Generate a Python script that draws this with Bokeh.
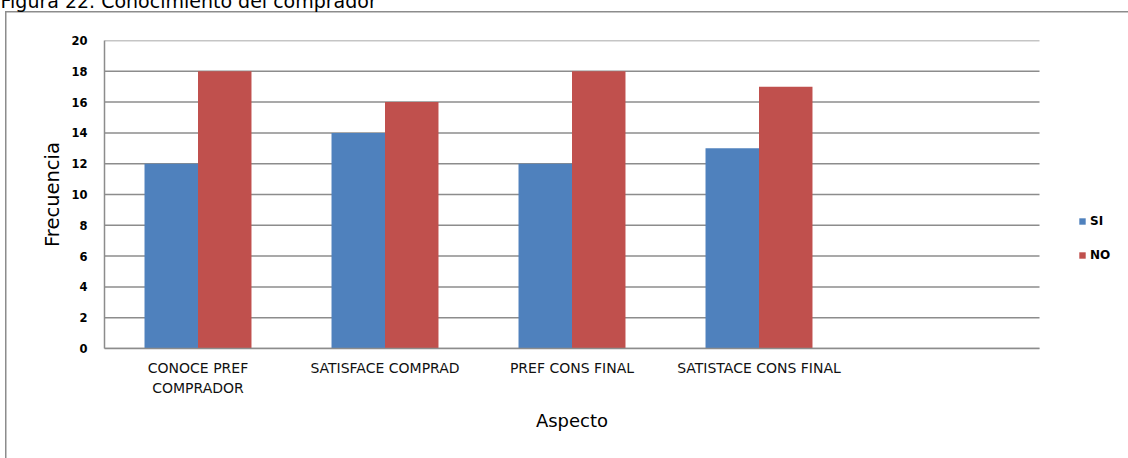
import numpy as np
from bokeh.plotting import figure
from bokeh.models import (Range1d, FixedTicker, Legend, LegendItem, ColumnDataSource, Label)
from bokeh.embed import file_html
from bokeh.resources import INLINE

# ---- data ----
categories = ["CONOCE PREF\nCOMPRADOR", "SATISFACE COMPRAD", "PREF CONS FINAL", "SATISTACE CONS FINAL"]
n_slots = 5
si = [12, 14, 12, 13]
no = [18, 16, 18, 17]
series_names = ["SI", "NO"]
y_ticks = list(range(0, 21, 2))
title_text = "Figura 22. Conocimiento del comprador"
x_title = "Aspecto"
y_title = "Frecuencia"

FONT = "DejaVu Sans"
GRID = "#8c8c8c"
BLUE = "#4F81BD"
RED = "#C0504D"

W, H = 1128, 458
LEFT, TOP, BOTTOM = 104, 40, 110
PLOT_W = 935  # width of the category area in pixels

pos = np.arange(1, len(categories) + 1)
bw = 0.286
src = ColumnDataSource(dict(x_si=pos - bw / 2, x_no=pos + bw / 2, si=si, no=no))

x0, x1 = 0.5, n_slots + 0.5
x_end = x0 + (W - LEFT) * (x1 - x0) / PLOT_W  # frame runs to the right edge (legend area)

frame_css = ("linear-gradient(#8c8c8c,#8c8c8c) 5px 11px / 1.5px 100% no-repeat, "
             "linear-gradient(#8c8c8c,#8c8c8c) 5px 11px / 100% 1.5px no-repeat, white")

p = figure(width=W, height=H, output_backend="svg", toolbar_location=None,
           x_range=Range1d(x0, x_end), y_range=Range1d(0, 20),
           min_border_left=LEFT, min_border_right=0, min_border_top=TOP,
           min_border_bottom=BOTTOM)
p.outline_line_color = None
p.background_fill_color = "white"
p.border_fill_alpha = 0
p.styles = {"background": frame_css}

# horizontal gridlines limited to the category area
p.ygrid.grid_line_color = None
p.xgrid.grid_line_color = None
p.segment(x0=[x0] * len(y_ticks), x1=[x1] * len(y_ticks), y0=y_ticks, y1=y_ticks,
          line_color=GRID, line_width=1.5)

r_si = p.vbar(x="x_si", top="si", width=bw, source=src, fill_color=BLUE, line_color=None)
r_no = p.vbar(x="x_no", top="no", width=bw, source=src, fill_color=RED, line_color=None)

# title (partly above the visible page, as in the source image)
title = Label(x=0, y=0, x_units="canvas", y_units="canvas", text=title_text,
              text_font=FONT, text_font_size="19px", text_baseline="alphabetic",
              text_align="left", text_color="black")
p.add_layout(title, "above")

# y axis
p.yaxis.ticker = FixedTicker(ticks=y_ticks)
p.yaxis.bounds = (0, 20)
p.yaxis.major_tick_line_color = None
p.yaxis.minor_tick_line_color = None
p.yaxis.axis_line_color = GRID
p.yaxis.axis_line_width = 1.5
p.yaxis.major_label_text_font = FONT
p.yaxis.major_label_text_font_style = "bold"
p.yaxis.major_label_text_font_size = "11.5px"
p.yaxis.major_label_text_color = "black"
p.yaxis.major_label_standoff = 11
p.yaxis.axis_label = y_title
p.yaxis.axis_label_text_font = FONT
p.yaxis.axis_label_text_font_style = "normal"
p.yaxis.axis_label_text_font_size = "19.5px"
p.yaxis.axis_label_text_color = "black"
p.yaxis.axis_label_standoff = 4

# x axis
p.xaxis.ticker = FixedTicker(ticks=list(pos))
p.xaxis.bounds = (x0, x1)
p.xaxis.major_label_overrides = {int(i): c for i, c in zip(pos, categories)}
p.xaxis.major_tick_line_color = None
p.xaxis.minor_tick_line_color = None
p.xaxis.axis_line_color = GRID
p.xaxis.axis_line_width = 1.5
p.xaxis.major_label_text_font = FONT
p.xaxis.major_label_text_font_size = "14px"
p.xaxis.major_label_text_color = "#111111"
p.xaxis.major_label_text_line_height = 1.3
p.xaxis.major_label_standoff = 5

# x-axis title centred under the category area
xlab = Label(x=LEFT + PLOT_W / 2, y=420, x_units="canvas", y_units="canvas", text=x_title,
             text_font=FONT, text_font_size="18px", text_baseline="alphabetic",
             text_align="center", text_color="black")
p.add_layout(xlab, "below")

# legend
legend = Legend(items=[LegendItem(label=series_names[0], renderers=[r_si]),
                       LegendItem(label=series_names[1], renderers=[r_no])],
                location=(974, 86), orientation="vertical",
                glyph_width=8, glyph_height=8, label_height=12,
                spacing=20, padding=0, margin=0, label_standoff=4,
                border_line_color=None, background_fill_alpha=0,
                label_text_font=FONT, label_text_font_style="bold",
                label_text_font_size="12px", label_text_color="black")
p.add_layout(legend, "center")

open("out.html", "w").write(file_html(p, INLINE))
